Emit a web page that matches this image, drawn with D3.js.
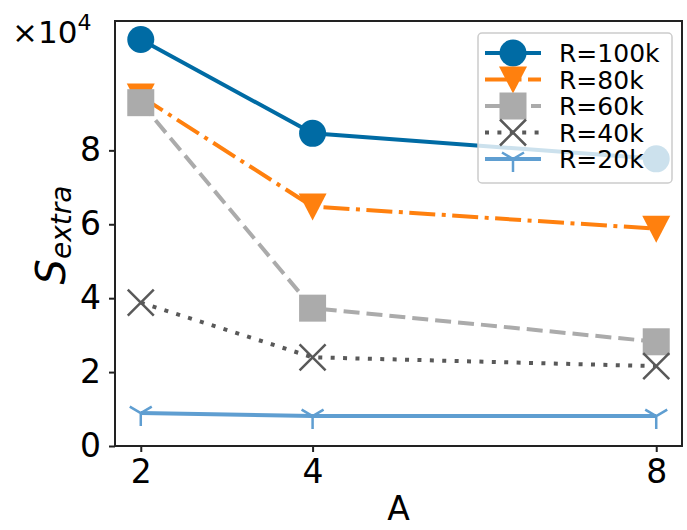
<!DOCTYPE html>
<html>
<head>
<meta charset="utf-8">
<script src="https://d3js.org/d3.v7.min.js"></script>
<style>
	body { margin: 0; background: #fff; }
	svg { display: block; font-family: 'DejaVu Sans', sans-serif; }
</style>
</head>
<body>
<div id="chart"></div>
<script>
	//Chart data (values in units of 10^4)
	const aValues = [2, 4, 8];
	const seriesNames = ['R=100k', 'R=80k', 'R=60k', 'R=40k', 'R=20k'];
	const r100k = [11.0, 8.46, 7.77];
	const r80k = [9.46, 6.48, 5.88];
	const r60k = [9.29, 3.73, 2.82];
	const r40k = [3.88, 2.40, 2.16];
	const r20k = [0.89, 0.81, 0.81];
	const yTicks = [0, 2, 4, 6, 8];

	let width = 687, height = 530;
	let margin = { top: 21, right: 5, bottom: 84, left: 115 };

	let series = [
		{ name: seriesNames[0], values: r100k, color: '#006BA4', dash: null, marker: 'circle' },
		{ name: seriesNames[1], values: r80k, color: '#FF800E', dash: '26,6.5,4,6.5', marker: 'triangle' },
		{ name: seriesNames[2], values: r60k, color: '#ABABAB', dash: '16,7', marker: 'square' },
		{ name: seriesNames[3], values: r40k, color: '#595959', dash: '4,8.4', marker: 'x' },
		{ name: seriesNames[4], values: r20k, color: '#5F9ED1', dash: null, marker: 'tri' }
	];

	let svg = d3.select('#chart')
		.append('svg')
		.attr('width', width)
		.attr('height', height);

	let xScale = d3.scaleLinear()
		.domain([1.7, 8.3])
		.range([margin.left, width - margin.right]);

	let yScale = d3.scaleLinear()
		.domain([0, 11.5])
		.range([height - margin.bottom, margin.top]);

	//Draw a marker of the given kind centred at 0,0
	function drawMarker(g, kind, color) {
		if (kind === 'circle') {
			g.append('circle').attr('r', 13.5).attr('fill', color);
		} else if (kind === 'triangle') {
			g.append('path').attr('d', 'M-14,-13L14,-13L0,14Z').attr('fill', color);
		} else if (kind === 'square') {
			g.append('rect').attr('x', -13.5).attr('y', -13.5).attr('width', 27).attr('height', 27).attr('fill', color);
		} else if (kind === 'x') {
			g.append('path').attr('d', 'M-13,-13L13,13M-13,13L13,-13')
				.attr('stroke', color).attr('stroke-width', 2.5).attr('fill', 'none');
		} else if (kind === 'tri') {
			g.append('path').attr('d', 'M0,0L0,13M0,0L-11,-6.5M0,0L11,-6.5')
				.attr('stroke', color).attr('stroke-width', 2.5).attr('fill', 'none');
		}
	}

	let line = d3.line()
		.x((d, i) => xScale(aValues[i]))
		.y(d => yScale(d));

	//Lines with their markers, drawn series by series
	series.forEach(s => {
		let g = svg.append('g');
		g.append('path')
			.attr('d', line(s.values))
			.attr('fill', 'none')
			.attr('stroke', s.color)
			.attr('stroke-width', 4)
			.attr('stroke-dasharray', s.dash);
		s.values.forEach((v, i) => {
			let m = g.append('g')
				.attr('transform', `translate(${xScale(aValues[i])},${yScale(v)})`);
			drawMarker(m, s.marker, s.color);
		});
	});

	//Axes
	let xAxis = d3.axisBottom(xScale)
		.tickValues(aValues)
		.tickFormat(d3.format('d'))
		.tickSize(6)
		.tickPadding(8);

	let yAxis = d3.axisLeft(yScale)
		.tickValues(yTicks)
		.tickFormat(d3.format('d'))
		.tickSize(6)
		.tickPadding(8);

	let gx = svg.append('g')
		.attr('transform', `translate(0, ${height - margin.bottom})`)
		.call(xAxis);

	let gy = svg.append('g')
		.attr('transform', `translate(${margin.left}, 0)`)
		.call(yAxis);

	[gx, gy].forEach(g => {
		g.select('.domain').remove();
		g.selectAll('line').attr('stroke', '#222').attr('stroke-width', 2);
		g.selectAll('text')
			.style('font-size', '33px')
			.style('font-family', 'DejaVu Sans')
			.attr('fill', '#000');
	});

	//Frame around the plot area
	svg.append('rect')
		.attr('x', margin.left)
		.attr('y', margin.top)
		.attr('width', width - margin.left - margin.right)
		.attr('height', height - margin.top - margin.bottom)
		.attr('fill', 'none')
		.attr('stroke', '#222')
		.attr('stroke-width', 2);

	//Offset text
	let offset = svg.append('text')
		.attr('x', 12)
		.attr('y', 43)
		.style('font-size', '31px');
	offset.append('tspan').text('×10');
	offset.append('tspan').attr('dy', -13).style('font-size', '22px').text('4');

	//Axis labels
	svg.append('text')
		.attr('x', (margin.left + width - margin.right) / 2)
		.attr('y', 520)
		.attr('text-anchor', 'middle')
		.style('font-size', '33px')
		.text('A');

	let ylab = svg.append('text')
		.attr('transform', 'translate(65, 235) rotate(-90)')
		.attr('text-anchor', 'middle')
		.style('font-style', 'italic');
	ylab.append('tspan').style('font-size', '40px').text('S');
	ylab.append('tspan').attr('dy', 6).style('font-size', '28px').text('extra');

	//Legend
	let legend = svg.append('g');
	legend.append('rect')
		.attr('x', 478)
		.attr('y', 33)
		.attr('width', 194)
		.attr('height', 150)
		.attr('rx', 4)
		.attr('fill', '#fff')
		.attr('fill-opacity', 0.8)
		.attr('stroke', '#ccc')
		.attr('stroke-width', 1.5);

	series.forEach((s, i) => {
		let y = 53 + i * 26.5;
		let row = legend.append('g').attr('transform', `translate(0, ${y})`);
		row.append('line')
			.attr('x1', 485).attr('x2', 541)
			.attr('stroke', s.color)
			.attr('stroke-width', 4)
			.attr('stroke-dasharray', s.dash);
		let m = row.append('g').attr('transform', 'translate(513, 0)');
		drawMarker(m, s.marker, s.color);
		row.append('text')
			.attr('x', 559)
			.attr('dy', '0.36em')
			.style('font-size', '25px')
			.text(s.name);
	});
</script>
</body>
</html>
